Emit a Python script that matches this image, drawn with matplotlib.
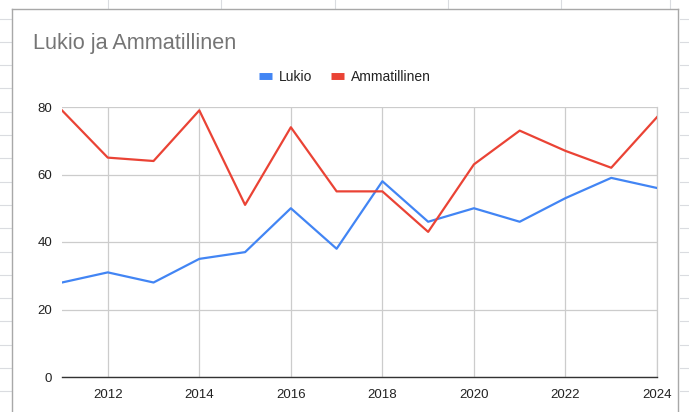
import matplotlib
matplotlib.use("Agg")
import matplotlib.pyplot as plt
from matplotlib.lines import Line2D

# data
years = [2011, 2012, 2013, 2014, 2015, 2016, 2017, 2018, 2019, 2020, 2021, 2022, 2023, 2024]
lukio = [28, 31, 28, 35, 37, 50, 38, 58, 46, 50, 46, 53, 59, 56]
ammatillinen = [79, 65, 64, 79, 51, 74, 55, 55, 43, 63, 73, 67, 62, 77]
x_ticks = [2012, 2014, 2016, 2018, 2020, 2022, 2024]
y_ticks = [0, 20, 40, 60, 80]

W, H = 689, 412
plt.rcParams['font.family'] = ['Liberation Sans', 'DejaVu Sans']

fig = plt.figure(figsize=(W / 100, H / 100), dpi=100)


def px_line(x0, y0, x1, y1, color, lw=1.0):
    # line in pixel coords (top-left origin) on the figure
    fig.add_artist(Line2D([x0 / W, x1 / W], [1 - y0 / H, 1 - y1 / H],
                          transform=fig.transFigure, color=color, lw=lw, zorder=0))


# spreadsheet cells behind the chart
cell_color = '#dadce0'
for i in range(17):
    y = 18.5 + i * 23.3
    px_line(0, y, 11, y, cell_color, 0.8)
    px_line(680, y, W, y, cell_color, 0.8)
for x in [108, 221, 335, 448, 561, 670]:
    px_line(x, 0, x, 8, cell_color, 0.8)

# chart box
border = '#a8a8a8'
px_line(12, 9, 678, 9, border, 1.0)
px_line(12, 9, 12, H, border, 1.0)
px_line(678, 9, 678, H, border, 1.0)

ax = fig.add_axes([62 / W, 1 - 377 / H, (657 - 62) / W, (377 - 107) / H])

ax.plot(years, lukio, color='#4285F4', lw=1.6, label='Lukio', zorder=3)
ax.plot(years, ammatillinen, color='#EA4335', lw=1.6, label='Ammatillinen', zorder=3)

ax.set_xlim(2011, 2024)
ax.set_ylim(0, 80)
ax.set_xticks(x_ticks)
ax.set_yticks(y_ticks)
ax.grid(True, color='#cccccc', lw=0.9)
ax.set_axisbelow(True)
ax.tick_params(length=0, labelsize=9.5, colors='#222222')
ax.tick_params(axis='x', pad=9)
ax.tick_params(axis='y', pad=7)
for side in ['top', 'left']:
    ax.spines[side].set_visible(False)
ax.spines['right'].set_color('#cccccc')
ax.spines['right'].set_linewidth(0.9)
ax.spines['bottom'].set_color('#333333')
ax.spines['bottom'].set_linewidth(1.0)

fig.text(33 / W, 1 - 43 / H, 'Lukio ja Ammatillinen', fontsize=15.6,
         color='#757575', va='center', ha='left')

handles = [Line2D([0], [0], color='#4285F4', lw=5, solid_capstyle='butt'),
           Line2D([0], [0], color='#EA4335', lw=5, solid_capstyle='butt')]
fig.legend(handles, ['Lukio', 'Ammatillinen'], loc='center',
           bbox_to_anchor=(345 / W, 1 - 77 / H), ncol=2, frameon=False,
           fontsize=10, handlelength=0.9, handletextpad=0.5, columnspacing=1.4,
           labelcolor='#222222')

fig.savefig('out.png', dpi=100)
